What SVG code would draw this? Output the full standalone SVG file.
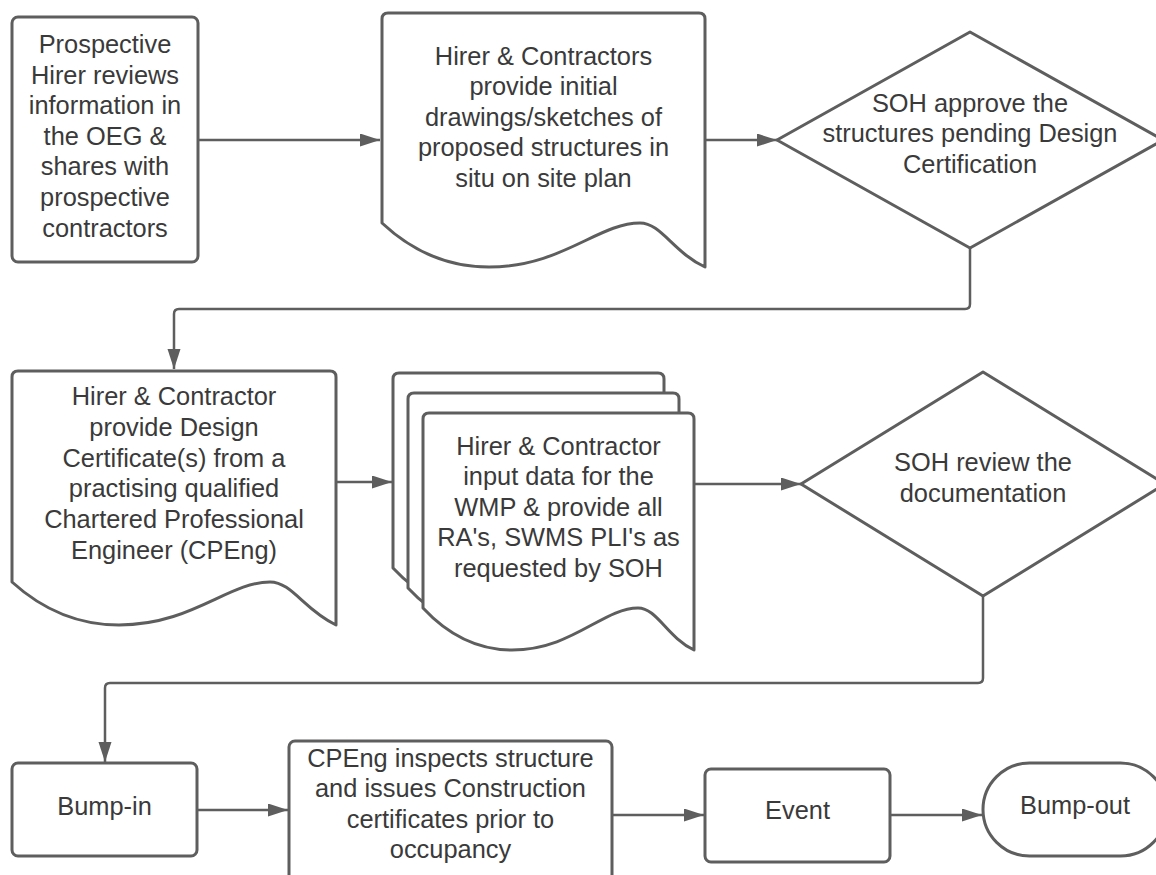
<svg xmlns="http://www.w3.org/2000/svg" width="1156" height="875" viewBox="0 0 1156 875">
<style>
.s{fill:#ffffff;stroke:#5e5e5e;stroke-width:3;stroke-linejoin:round}
.c{fill:none;stroke:#5e5e5e;stroke-width:2.5}
.t{font-family:"Liberation Sans",Arial,sans-serif;font-size:25.4px;fill:#3a3a3a;text-anchor:middle}
</style>
<defs>
<marker id="ah" markerUnits="userSpaceOnUse" markerWidth="20" markerHeight="14" refX="20" refY="6.5" orient="auto">
<path d="M0,0 L20,6.5 L0,13 z" fill="#5e5e5e"/>
</marker>
</defs>
<rect width="1156" height="875" fill="#ffffff"/>
<g id="connectors">
<path class="c" d="M198,140 H380" marker-end="url(#ah)"/>
<path class="c" d="M705,140 H777" marker-end="url(#ah)"/>
<path class="c" d="M970,248 V304 Q970,309 965,309 H179 Q174,309 174,314 V369" marker-end="url(#ah)"/>
<path class="c" d="M336,482 H392" marker-end="url(#ah)"/>
<path class="c" d="M694,484 H801" marker-end="url(#ah)"/>
<path class="c" d="M983,596 V678 Q983,683 978,683 H110 Q105,683 105,688 V762" marker-end="url(#ah)"/>
<path class="c" d="M197,810 H288" marker-end="url(#ah)"/>
<path class="c" d="M612,815 H704" marker-end="url(#ah)"/>
<path class="c" d="M890,815 H982" marker-end="url(#ah)"/>
</g>
<g id="n1">
<rect class="s" x="12" y="17" width="186" height="245" rx="6"/>
<text class="t"><tspan x="105" y="53">Prospective</tspan><tspan x="105" y="83.6">Hirer reviews</tspan><tspan x="105" y="114.2">information in</tspan><tspan x="105" y="144.8">the OEG &amp;</tspan><tspan x="105" y="175.4">shares with</tspan><tspan x="105" y="206">prospective</tspan><tspan x="105" y="236.6">contractors</tspan></text>
</g>
<g id="n2">
<path class="s" d="M382,223 V19 Q382,13 388,13 H699 Q705,13 705,19 V267 C673,252 661,223 640,223 C598,223 562,267 489,267 C450,267 414,253 382,223 Z"/>
<text class="t"><tspan x="543.5" y="64.5">Hirer &amp; Contractors</tspan><tspan x="543.5" y="95">provide initial</tspan><tspan x="543.5" y="125.5">drawings/sketches of</tspan><tspan x="543.5" y="156">proposed structures in</tspan><tspan x="543.5" y="186.7">situ on site plan</tspan></text>
</g>
<g id="n3">
<polygon class="s" points="777,140 970,32 1163,140 970,248"/>
<text class="t"><tspan x="970" y="112">SOH approve the</tspan><tspan x="970" y="142.3">structures pending Design</tspan><tspan x="970" y="172.6">Certification</tspan></text>
</g>
<g id="n4">
<path class="s" d="M12,582 V377 Q12,371 18,371 H330 Q336,371 336,377 V625 C304,610 292,582 270,582 C228,582 192,625 119,625 C80,625 44,611 12,582 Z"/>
<text class="t"><tspan x="174" y="405">Hirer &amp; Contractor</tspan><tspan x="174" y="435.8">provide Design</tspan><tspan x="174" y="466.6">Certificate(s) from a</tspan><tspan x="174" y="497.4">practising qualified</tspan><tspan x="174" y="528.2">Chartered Professional</tspan><tspan x="174" y="559">Engineer (CPEng)</tspan></text>
</g>
<g id="n5">
<path class="s" d="M393,568 V379 Q393,373 399,373 H658 Q664,373 664,379 V610 C637,597 627,568 608,568 C573,568 542,610 482,610 C449,610 420,597 393,568 Z"/>
<path class="s" d="M408,588 V399 Q408,393 414,393 H673 Q679,393 679,399 V630 C652,617 642,588 623,588 C588,588 557,630 497,630 C464,630 435,617 408,588 Z"/>
<path class="s" d="M423,608 V419 Q423,413 429,413 H688 Q694,413 694,419 V650 C667,637 657,608 638,608 C603,608 572,650 512,650 C479,650 450,637 423,608 Z"/>
<text class="t"><tspan x="558.5" y="454.5">Hirer &amp; Contractor</tspan><tspan x="558.5" y="485">input data for the</tspan><tspan x="558.5" y="515.5">WMP &amp; provide all</tspan><tspan x="558.5" y="546">RA's, SWMS PLI's as</tspan><tspan x="558.5" y="576.6">requested by SOH</tspan></text>
</g>
<g id="n6">
<polygon class="s" points="801,484 983,372 1165,484 983,596"/>
<text class="t"><tspan x="983" y="471">SOH review the</tspan><tspan x="983" y="502">documentation</tspan></text>
</g>
<g id="n7">
<rect class="s" x="12" y="763" width="185" height="93" rx="6"/>
<text class="t" x="104.5" y="815">Bump-in</text>
</g>
<g id="n8">
<rect class="s" x="289" y="741" width="323" height="160" rx="6"/>
<text class="t"><tspan x="450.5" y="767">CPEng inspects structure</tspan><tspan x="450.5" y="797.3">and issues Construction</tspan><tspan x="450.5" y="827.6">certificates prior to</tspan><tspan x="450.5" y="857.9">occupancy</tspan></text>
</g>
<g id="n9">
<rect class="s" x="705" y="769" width="185" height="93" rx="6"/>
<text class="t" x="797.5" y="819">Event</text>
</g>
<g id="n10">
<rect class="s" x="983" y="763" width="184" height="93" rx="46.5"/>
<text class="t" x="1075" y="814">Bump-out</text>
</g>
</svg>
